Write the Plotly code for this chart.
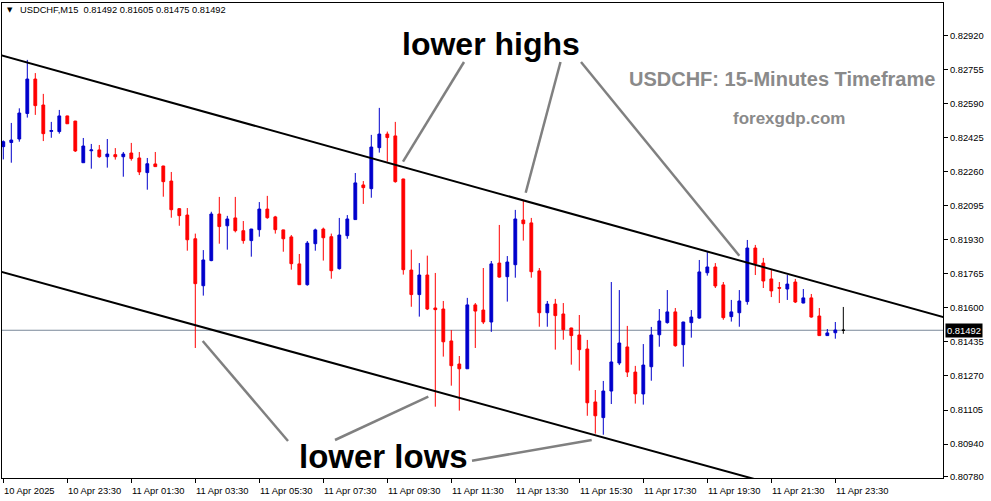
import pandas as pd
import plotly.graph_objects as go

# ---------------- data ----------------
symbol = "USDCHF"
period = "M15"
first_bar = "2025-04-10 21:30"
bar_minutes = 15

opens = [0.82383, 0.82403, 0.82420, 0.82544, 0.82711, 0.82585, 0.82457, 0.82456, 0.82532, 0.82507,
         0.82305, 0.82363, 0.82367, 0.82334, 0.82344, 0.82334, 0.82352, 0.82328, 0.82257, 0.82299,
         0.82289, 0.82216, 0.82082, 0.82051, 0.81936, 0.81708, 0.81830, 0.82056, 0.81999, 0.82037,
         0.81975, 0.81927, 0.81980, 0.82080, 0.82042, 0.81979, 0.81945, 0.81814, 0.81713, 0.81912,
         0.81983, 0.81946, 0.81791, 0.81951, 0.82029, 0.82197, 0.82179, 0.82378, 0.82444, 0.82435,
         0.82226, 0.81784, 0.81665, 0.81760, 0.81600, 0.81595, 0.81440, 0.81328, 0.81305, 0.81615,
         0.81590, 0.81532, 0.81818, 0.81752, 0.81810, 0.82027, 0.82013, 0.81780, 0.81577, 0.81619,
         0.81571, 0.81503, 0.81469, 0.81401, 0.81144, 0.81068, 0.81197, 0.81333, 0.81411, 0.81289,
         0.81183, 0.81315, 0.81470, 0.81529, 0.81581, 0.81422, 0.81529, 0.81551, 0.81771, 0.81799,
         0.81712, 0.81558, 0.81577, 0.81631, 0.81891, 0.81818, 0.81741, 0.81699, 0.81692, 0.81726,
         0.81624, 0.81649, 0.81561, 0.81466, 0.81480, 0.81492]
highs = [0.82413, 0.82498, 0.82569, 0.82804, 0.82740, 0.82639, 0.82503, 0.82561, 0.82533, 0.82508,
         0.82425, 0.82396, 0.82391, 0.82420, 0.82376, 0.82357, 0.82401, 0.82357, 0.82328, 0.82357,
         0.82290, 0.82260, 0.82085, 0.82085, 0.81961, 0.81881, 0.82067, 0.82139, 0.82047, 0.82139,
         0.82022, 0.81984, 0.82114, 0.82144, 0.82047, 0.81980, 0.81954, 0.81862, 0.81925, 0.81985,
         0.81990, 0.81961, 0.82037, 0.82051, 0.82255, 0.82216, 0.82440, 0.82571, 0.82456, 0.82503,
         0.82227, 0.81883, 0.81818, 0.81854, 0.81770, 0.81634, 0.81493, 0.81367, 0.81649, 0.81624,
         0.81794, 0.81828, 0.82003, 0.81852, 0.82076, 0.82124, 0.82037, 0.81794, 0.81634, 0.81644,
         0.81624, 0.81504, 0.81566, 0.81445, 0.81202, 0.81246, 0.81726, 0.81687, 0.81513, 0.81319,
         0.81425, 0.81508, 0.81595, 0.81687, 0.81600, 0.81533, 0.81590, 0.81833, 0.81872, 0.81818,
         0.81726, 0.81639, 0.81687, 0.81930, 0.81906, 0.81843, 0.81784, 0.81726, 0.81760, 0.81741,
         0.81692, 0.81668, 0.81600, 0.81498, 0.81532, 0.81605]
lows = [0.82321, 0.82305, 0.82407, 0.82524, 0.82537, 0.82410, 0.82426, 0.82446, 0.82493, 0.82357,
        0.82304, 0.82276, 0.82329, 0.82281, 0.82320, 0.82237, 0.82315, 0.82245, 0.82174, 0.82284,
        0.82140, 0.82038, 0.81999, 0.81878, 0.81406, 0.81660, 0.81827, 0.81912, 0.81883, 0.81967,
        0.81912, 0.81849, 0.81946, 0.82033, 0.81961, 0.81873, 0.81786, 0.81712, 0.81708, 0.81878,
        0.81830, 0.81742, 0.81786, 0.81936, 0.82028, 0.82105, 0.82135, 0.82354, 0.82310, 0.82208,
        0.81762, 0.81606, 0.81558, 0.81590, 0.81121, 0.81364, 0.81223, 0.81102, 0.81304, 0.81406,
        0.81522, 0.81484, 0.81747, 0.81631, 0.81747, 0.81927, 0.81747, 0.81509, 0.81509, 0.81398,
        0.81446, 0.81325, 0.81296, 0.81077, 0.80990, 0.80985, 0.81134, 0.81323, 0.81265, 0.81136,
        0.81131, 0.81247, 0.81412, 0.81524, 0.81412, 0.81315, 0.81456, 0.81548, 0.81757, 0.81697,
        0.81543, 0.81534, 0.81509, 0.81616, 0.81760, 0.81697, 0.81653, 0.81624, 0.81639, 0.81624,
        0.81623, 0.81553, 0.81465, 0.81465, 0.81451, 0.81475]
closes = [0.82407, 0.82415, 0.82546, 0.82711, 0.82582, 0.82446, 0.82461, 0.82532, 0.82494, 0.82362,
          0.82386, 0.82367, 0.82334, 0.82347, 0.82334, 0.82347, 0.82325, 0.82260, 0.82300, 0.82286,
          0.82213, 0.82077, 0.82048, 0.81931, 0.81718, 0.81833, 0.82056, 0.81995, 0.82032, 0.81975,
          0.81927, 0.81983, 0.82080, 0.82038, 0.81980, 0.81936, 0.81815, 0.81713, 0.81915, 0.81979,
          0.81941, 0.81781, 0.81954, 0.82032, 0.82207, 0.82184, 0.82381, 0.82444, 0.82427, 0.82213,
          0.81786, 0.81665, 0.81760, 0.81595, 0.81592, 0.81436, 0.81320, 0.81305, 0.81615, 0.81585,
          0.81532, 0.81814, 0.81750, 0.81823, 0.82032, 0.82009, 0.81776, 0.81577, 0.81619, 0.81563,
          0.81495, 0.81466, 0.81398, 0.81140, 0.81077, 0.81197, 0.81338, 0.81430, 0.81289, 0.81183,
          0.81323, 0.81469, 0.81537, 0.81581, 0.81417, 0.81532, 0.81556, 0.81775, 0.81799, 0.81707,
          0.81553, 0.81581, 0.81634, 0.81891, 0.81814, 0.81731, 0.81683, 0.81696, 0.81716, 0.81629,
          0.81649, 0.81556, 0.81466, 0.81479, 0.81493, 0.81492]

x_tick_times = ["2025-04-10 21:30", "2025-04-10 23:30", "2025-04-11 01:30", "2025-04-11 03:30",
                "2025-04-11 05:30", "2025-04-11 07:30", "2025-04-11 09:30", "2025-04-11 11:30",
                "2025-04-11 13:30", "2025-04-11 15:30", "2025-04-11 17:30", "2025-04-11 19:30",
                "2025-04-11 21:30", "2025-04-11 23:30"]
x_tick_labels = ["10 Apr 2025", "10 Apr 23:30", "11 Apr 01:30", "11 Apr 03:30", "11 Apr 05:30",
                 "11 Apr 07:30", "11 Apr 09:30", "11 Apr 11:30", "11 Apr 13:30", "11 Apr 15:30",
                 "11 Apr 17:30", "11 Apr 19:30", "11 Apr 21:30", "11 Apr 23:30"]
y_tick_labels = ["0.82920", "0.82755", "0.82590", "0.82425", "0.82260", "0.82095", "0.81930",
                 "0.81765", "0.81600", "0.81435", "0.81270", "0.81105", "0.80940", "0.80780"]

# channel trend lines, two anchor points each (time, price)
upper_channel_times = ["2025-04-10 21:00", "2025-04-12 06:00"]
upper_channel_prices = [0.828450, 0.814207]
lower_channel_times = ["2025-04-10 21:00", "2025-04-12 06:00"]
lower_channel_prices = [0.817941, 0.803843]

title_text = "USDCHF: 15-Minutes Timeframe"
site_text = "forexgdp.com"
label_highs = "lower highs"
label_lows = "lower lows"

# ---------------- figure ----------------
W, H = 991, 501
PL, PR, PT, PB = 2, 943, 3, 478          # plot box in pixels


def paper(px, py):
    return (px - PL) / (PR - PL), (PB - py) / (PB - PT)


times = pd.date_range(first_bar, periods=len(opens), freq=f"{bar_minutes}min")
bar = pd.Timedelta(minutes=bar_minutes)
x_range = [times[0] - bar * 0.1625, times[0] + bar * 117.46]
y_range = [0.80775, 0.83080]

BLUE = "#0000CC"
RED = "#FF0000"

is_doji = [o == c for o, c in zip(opens, closes)]
idx_main = [i for i, d in enumerate(is_doji) if not d]
idx_doji = [i for i, d in enumerate(is_doji) if d]

fig = go.Figure()
fig.add_trace(go.Candlestick(
    x=[times[i] for i in idx_main],
    open=[opens[i] for i in idx_main], high=[highs[i] for i in idx_main],
    low=[lows[i] for i in idx_main], close=[closes[i] for i in idx_main],
    increasing=dict(line=dict(color=BLUE, width=1), fillcolor=BLUE),
    decreasing=dict(line=dict(color=RED, width=1), fillcolor=RED),
    whiskerwidth=0, hoverinfo="skip",
))
fig.add_trace(go.Candlestick(
    x=[times[i] for i in idx_doji],
    open=[opens[i] for i in idx_doji], high=[highs[i] for i in idx_doji],
    low=[lows[i] for i in idx_doji], close=[closes[i] for i in idx_doji],
    increasing=dict(line=dict(color="black", width=1), fillcolor="black"),
    decreasing=dict(line=dict(color="black", width=1), fillcolor="black"),
    whiskerwidth=0, hoverinfo="skip",
))

# channel lines
for tt, pp in ((upper_channel_times, upper_channel_prices), (lower_channel_times, lower_channel_prices)):
    fig.add_trace(go.Scatter(x=pd.to_datetime(tt), y=pp, mode="lines",
                             line=dict(color="black", width=2), hoverinfo="skip"))

# current price line
fig.add_hline(y=closes[-1], line=dict(color="#7A8899", width=1), layer="below")

shapes = []
pointer_lines = [
    ((34, 59.3), (393, 39)),
    ((403, 161.7), (464, 62)),
    ((525.7, 192.7), (560.5, 62)),
    ((581, 62), (739.3, 255.7)),
    ((202.7, 341), (288, 441)),
    ((335, 440), (428.3, 396.7)),
    ((472, 460.7), (591.7, 440)),
]
for (x0, y0), (x1, y1) in pointer_lines:
    a0, b0 = paper(x0, y0)
    a1, b1 = paper(x1, y1)
    shapes.append(dict(type="line", xref="paper", yref="paper", x0=a0, y0=b0, x1=a1, y1=b1,
                       line=dict(color="#808080", width=2.5)))

ann = []
TICKFONT = dict(family="Liberation Sans, Arial, sans-serif", size=9.4, color="black")
for t, lab in zip(x_tick_times, x_tick_labels):
    ann.append(dict(x=pd.Timestamp(t), y=0, xref="x", yref="paper", text=lab, showarrow=False,
                    xanchor="left", yanchor="top", xshift=-1, yshift=-5, font=TICKFONT))

# header
hx, hy = paper(9.5, 10)
ann.append(dict(x=hx, y=hy, xref="paper", yref="paper", text="▼", showarrow=False,
                xanchor="center", yanchor="middle", font=dict(family="DejaVu Sans", size=7, color="black")))
hx, hy = paper(18, 10)
header = f"{symbol},{period}\u00a0\u00a0" + " ".join(f"{v:.5f}" for v in (opens[-1], highs[-1], lows[-1], closes[-1]))
ann.append(dict(x=hx, y=hy, xref="paper", yref="paper", text=header, showarrow=False,
                xanchor="left", yanchor="middle", font=dict(family="Liberation Sans, Arial", size=9.3, color="black")))

# current price box
ann.append(dict(x=1, y=closes[-1], xref="paper", yref="y", text=f"{closes[-1]:.5f}", showarrow=False,
                xanchor="left", yanchor="middle", xshift=2, bgcolor="black", borderpad=1,
                font=dict(family="Liberation Sans, Arial", size=9.4, color="white")))

BIG = dict(family="Liberation Sans, Arial, sans-serif", size=32, color="black")
for txt, size, (px_, py_) in ((label_highs, 32, (400, 44)), (label_lows, 33, (297, 456))):
    ax, ay = paper(px_, py_)
    ann.append(dict(x=ax, y=ay, xref="paper", yref="paper", text=f"<b>{txt}</b>", showarrow=False,
                    xanchor="left", yanchor="middle", font=dict(BIG, size=size)))

GRAY = dict(family="Liberation Sans, Arial, sans-serif", color="#8A8A8A")
ax, ay = paper(627, 79)
ann.append(dict(x=ax, y=ay, xref="paper", yref="paper", text=f"<b>{title_text}</b>", showarrow=False,
                xanchor="left", yanchor="middle", font=dict(GRAY, size=20)))
ax, ay = paper(731, 119)
ann.append(dict(x=ax, y=ay, xref="paper", yref="paper", text=f"<b>{site_text}</b>", showarrow=False,
                xanchor="left", yanchor="middle", font=dict(GRAY, size=17)))

fig.update_layout(
    width=W, height=H,
    margin=dict(l=PL, r=W - PR, t=PT, b=H - PB, pad=0),
    paper_bgcolor="white", plot_bgcolor="white",
    showlegend=False, boxgap=0.5,
    shapes=shapes, annotations=ann,
    xaxis=dict(type="date", range=x_range, showgrid=False, zeroline=False,
               showline=True, linecolor="black", linewidth=1, mirror=True,
               ticks="outside", ticklen=4, tickcolor="black", tickvals=[pd.Timestamp(t) for t in x_tick_times],
               showticklabels=False, rangeslider=dict(visible=False)),
    yaxis=dict(range=y_range, side="right", showgrid=False, zeroline=False,
               showline=True, linecolor="black", linewidth=1, mirror=True,
               ticks="outside", ticklen=4, tickcolor="black",
               tickvals=[float(v) for v in y_tick_labels], ticktext=y_tick_labels,
               tickfont=TICKFONT),
)

# remove the browser's default page margin so the figure sits at the window's top-left corner
fig.write_html("out.html", config={"displayModeBar": False, "staticPlot": True},
               post_script="document.body.style.margin='0';document.body.style.overflow='hidden';")
